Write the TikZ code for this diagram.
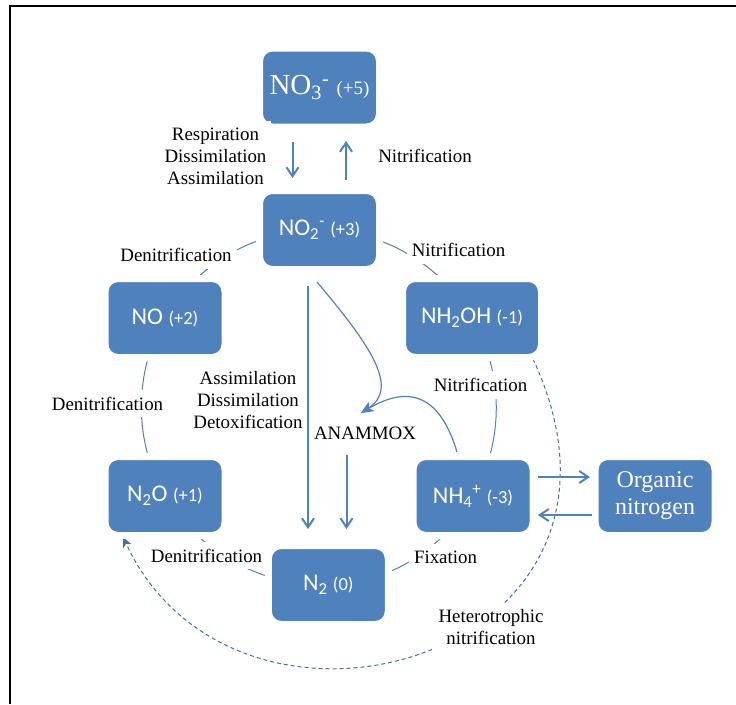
\documentclass[tikz,border=0pt]{standalone}
\usepackage{fontspec}
\setmainfont{Liberation Serif}
\newfontfamily\calfont{Carlito}
\usepackage{xcolor}
\usepackage{tikz}
\usetikzlibrary{arrows.meta,positioning,calc}
\pgfdeclarelayer{background}
\pgfsetlayers{background,main}
\definecolor{nblue}{HTML}{4F81BD}
\newcommand{\lblfont}{\fontsize{18.9pt}{22pt}\selectfont}
\newcommand{\spfont}{\calfont\fontsize{24pt}{28pt}\selectfont}
\newcommand{\oxfont}{\fontsize{18.5pt}{22pt}\selectfont}

\begin{document}
\begin{tikzpicture}[x=1pt, y=1pt]
        % Style definitions
        \tikzset{
            species/.style={draw=white, fill=nblue, rectangle, rounded corners=13pt, line width=7pt, outer sep=0pt, minimum width=120pt, minimum height=79pt, inner sep=0pt, text=white, align=center, font=\spfont},
            lbl/.style={fill=white, inner xsep=5pt, inner ysep=7pt, align=center, font=\lblfont},
            cyc/.style={draw=nblue, line width=1pt, bend left=30, looseness=0.91},
            flow/.style={draw=nblue, line width=2pt, -{Straight Barb[length=9pt,width=12pt]}},
            anx/.style={draw=nblue, line width=1.2pt, -{Stealth[length=12pt,width=10pt,inset=3pt]}},
            hetero/.style={draw=nblue!85!black, line width=1pt, dash pattern=on 4pt off 3pt, -{Stealth[length=10pt,width=9pt,inset=2.5pt]}}
        }

        % Frame
        \useasboundingbox (0,0) rectangle (736,-704);
        \draw[line width=2.3pt] (10,-704) -- (10,-6) -- (736,-6);

        % Nitrogen species
        \node [species] (no2) at (319.5,-230) {NO\textsubscript{2}\textsuperscript{-} {\oxfont(+3)}};
        \node [species, font=\rmfamily\fontsize{29pt}{32pt}\selectfont, above=63.5pt of no2] (no3) {NO\textsubscript{3}\textsuperscript{-} {\fontsize{19pt}{22pt}\selectfont(+5)}};
        \node [species] (no) at (165,-318) {NO {\oxfont(+2)}};
        \node [species, minimum width=139pt] (nhoh) at (472,-318) {NH\textsubscript{2}OH {\oxfont(-1)}};
        \node [species] (ntwoo) at (165,-496) {N\textsubscript{2}O {\oxfont(+1)}};
        \node [species] (nhfour) at (473,-496) {NH\textsubscript{4}\textsuperscript{+} {\oxfont(-3)}};
        \node [species] (ntwo) at (328.3,-585) {N\textsubscript{2} {\oxfont(0)}};
        \node [species, font=\rmfamily\fontsize{24pt}{27pt}\selectfont, right=62pt of nhfour] (orgn) {\rmfamily Organic\\\rmfamily nitrogen};

        % Process labels
        \node [lbl] (resp) at (215.5,-156.5) {Respiration\\Dissimilation\\Assimilation};
        \node [lbl] (nitra) at (425,-156) {Nitrification};
        \node [lbl] (nitrb) at (458.5,-250) {Nitrification};
        \node [lbl] (nitrc) at (480.5,-385) {Nitrification};
        \node [lbl] (denia) at (176,-255) {Denitrification};
        \node [lbl] (denib) at (107.5,-403.5) {Denitrification};
        \node [lbl] (denic) at (206.5,-555.5) {Denitrification};
        \node [lbl] (fix) at (445.5,-557.5) {Fixation};
        \node [lbl] (assim) at (248,-400) {Assimilation\\Dissimilation\\Detoxification};
        \node [lbl] (heter) at (491,-627.5) {Heterotrophic\\nitrification};
        \node [font=\lblfont, inner sep=0pt] (anammox) at (365,-433.5) {ANAMMOX};

        % NO3 <-> NO2
        \draw [flow] ([xshift=-27pt,yshift=-14.7pt]no3.south) -- ([xshift=-27pt,yshift=12.5pt]no2.north);
        \draw [flow] ([xshift=26.5pt,yshift=10.5pt]no2.north) -- ([xshift=26.5pt,yshift=-14pt]no3.south);

        % NO2 to N2, ANAMMOX to N2
        \draw [flow] ([xshift=-11.5pt,yshift=-16.5pt]no2.south) -- ([xshift=-20.3pt,yshift=16.5pt]ntwo.north);
        \draw [flow] ([xshift=-18.5pt,yshift=-15pt]anammox.south) -- ([xshift=18.2pt,yshift=16.5pt]ntwo.north);

        % ANAMMOX inputs
        \coordinate (anxin) at ([xshift=-4pt,yshift=14pt]anammox.north);
        \draw [anx] ([xshift=-2.5pt,yshift=-12.5pt]no2.south) .. controls +(53pt,-63pt) and +(39pt,25pt) .. (anxin);
        \draw [anx] ([xshift=-16pt,yshift=4.5pt]nhfour.north) .. controls +(-20pt,67pt) and +(39pt,23pt) .. (anxin);

        % NH4 <-> organic nitrogen
        \draw [flow] ([xshift=5pt,yshift=19pt]nhfour.east) -- ([xshift=-5pt,yshift=19pt]orgn.west);
        \draw [flow] ([xshift=-3.3pt,yshift=-19pt]orgn.west) -- ([xshift=5pt,yshift=-19pt]nhfour.east);

        % Cycle and heterotrophic path behind the boxes
        \begin{pgfonlayer}{background}
            \draw [cyc] (no2.center) to (nhoh.center);
            \draw [cyc] (nhoh.center) to (nhfour.center);
            \draw [cyc] (nhfour.center) to (ntwo.center);
            \draw [cyc] (ntwo.center) to (ntwoo.center);
            \draw [cyc] (ntwoo.center) to (no.center);
            \draw [cyc] (no.center) to (no2.center);
            \draw [hetero] ([xshift=-8.5pt,yshift=-1.5pt]nhoh.south east) .. controls +(-65:330pt) and +(-65:270pt) .. ([xshift=18pt,yshift=-1.5pt]ntwoo.south west);
        \end{pgfonlayer}
    \end{tikzpicture}
\end{document}
